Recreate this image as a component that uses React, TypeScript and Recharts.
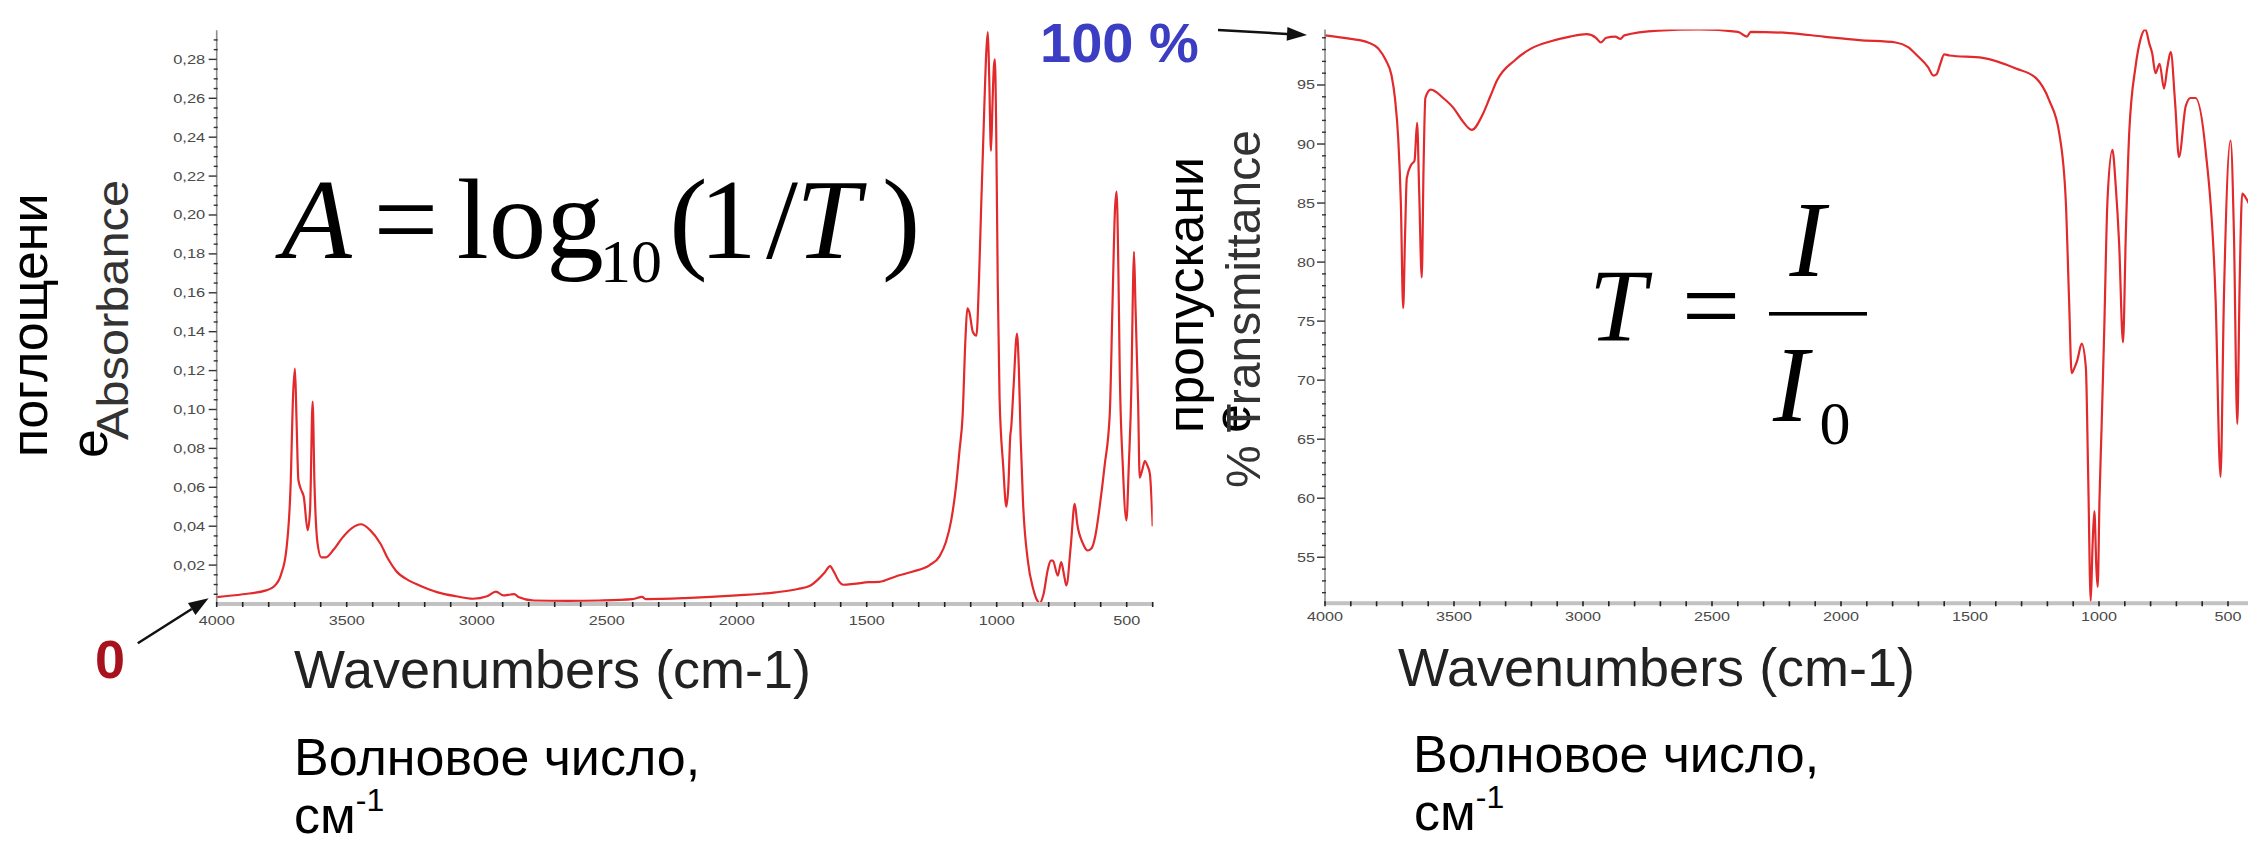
import React from 'react';
import { LineChart, Line, XAxis, YAxis } from 'recharts';

// ---------- data ----------
const WAVENUMBER_LABELS = [4000, 3500, 3000, 2500, 2000, 1500, 1000, 500];
const ABS_LABELS = [0.02, 0.04, 0.06, 0.08, 0.1, 0.12, 0.14, 0.16, 0.18, 0.2, 0.22, 0.24, 0.26, 0.28];
const TR_LABELS = [55, 60, 65, 70, 75, 80, 85, 90, 95];

const ABS_WAVENUMBERS = [
  4000, 3900, 3810, 3780, 3753, 3732, 3716, 3706, 3699, 3693, 3686, 3676, 3665, 3650, 3641, 3631, 3624, 3612,
  3598, 3580, 3550, 3517, 3480, 3445, 3410, 3370, 3340, 3310, 3260, 3220, 3150, 3080, 3015, 2960, 2926, 2897,
  2870, 2855, 2840, 2780, 2650, 2530, 2400, 2364, 2350, 2200, 2000, 1850, 1765, 1720, 1690, 1660, 1641, 1626,
  1606, 1590, 1550, 1492, 1452, 1386, 1325, 1259, 1220, 1195, 1175, 1156, 1143, 1131, 1120, 1113, 1105, 1092,
  1078, 1068, 1060, 1048, 1040, 1034, 1029, 1022, 1016, 1011, 1007, 1002, 996, 989, 975, 963, 955, 948, 944,
  935, 922, 915, 908, 899, 880, 860, 845, 835, 820, 803, 792, 784, 765, 752, 740, 732, 715, 700, 690, 668, 650,
  636, 620, 604, 585, 565, 555, 545, 539, 532, 527, 515, 501, 492, 482, 476, 472, 466, 456, 450, 440, 430, 420,
  411, 400,
];
const ABSORBANCE = [
  0.0035, 0.005, 0.007, 0.009, 0.015, 0.028, 0.06, 0.108, 0.121, 0.095, 0.064, 0.059, 0.055, 0.038, 0.048, 0.104,
  0.062, 0.031, 0.024, 0.024, 0.028, 0.034, 0.039, 0.041, 0.038, 0.031, 0.023, 0.017, 0.012, 0.0095, 0.006, 0.004,
  0.0027, 0.004, 0.0064, 0.0044, 0.0049, 0.0051, 0.0036, 0.0018, 0.0016, 0.0018, 0.0025, 0.0037, 0.0025, 0.003,
  0.0044, 0.006, 0.0077, 0.0092, 0.0123, 0.0165, 0.0195, 0.0165, 0.0115, 0.0099, 0.0103, 0.0112, 0.0114, 0.0143,
  0.0166, 0.0199, 0.0245, 0.032, 0.043, 0.061, 0.079, 0.097, 0.137, 0.152, 0.15, 0.14, 0.138, 0.167, 0.203, 0.254,
  0.284, 0.294, 0.272, 0.233, 0.258, 0.276, 0.28, 0.245, 0.165, 0.106, 0.071, 0.05, 0.061, 0.086, 0.091, 0.112,
  0.139, 0.122, 0.086, 0.053, 0.022, 0.008, 0.002, 0.0004, 0.005, 0.018, 0.0223, 0.0223, 0.0146, 0.0215, 0.0142,
  0.0095, 0.03, 0.0515, 0.041, 0.031, 0.0275, 0.0285, 0.0355, 0.05, 0.071, 0.098, 0.152, 0.203, 0.212, 0.172,
  0.122, 0.071, 0.043, 0.071, 0.112, 0.162, 0.181, 0.152, 0.103, 0.065, 0.069, 0.0735, 0.071, 0.067, 0.04,
];

const TR_WAVENUMBERS = [
  4000, 3900, 3833, 3790, 3764, 3742, 3729, 3716, 3706, 3697, 3690, 3683, 3667, 3653, 3643, 3635, 3625, 3618,
  3611, 3590, 3542, 3500, 3472, 3431, 3389, 3360, 3333, 3264, 3200, 3125, 3050, 2986, 2950, 2931, 2910, 2875,
  2855, 2840, 2708, 2550, 2400, 2365, 2350, 2200, 2068, 1929, 1788, 1740, 1705, 1662, 1642, 1630, 1615, 1600,
  1580, 1451, 1322, 1245, 1193, 1154, 1129, 1116, 1106, 1096, 1084, 1067, 1051, 1042, 1032, 1025, 1018, 1010,
  1005, 998, 990, 980, 967, 948, 935, 922, 907, 896, 883, 858, 840, 820, 805, 794, 781, 765, 748, 735, 722, 705,
  690, 664, 645, 626, 587, 548, 529, 516, 490, 477, 464, 455, 445, 427, 400,
];
const TRANSMITTANCE = [
  99.2, 98.9, 98.6, 98.0, 97.1, 95.8, 93.9, 90.4, 85.0, 76.1, 82.0, 87.1, 88.2, 88.6, 91.8, 86.0, 78.7, 88.0,
  93.9, 94.6, 93.9, 93.0, 92.1, 91.2, 92.5, 94.0, 95.4, 97.1, 98.1, 98.7, 99.1, 99.3, 99.0, 98.6, 99.0, 99.1,
  98.9, 99.2, 99.6, 99.7, 99.5, 99.1, 99.5, 99.4, 99.1, 98.8, 98.6, 98.2, 97.5, 96.5, 95.8, 95.9, 96.8, 97.6,
  97.5, 97.3, 96.4, 95.6, 93.7, 90.9, 85.3, 76.8, 70.6, 71.0, 71.7, 73.1, 71.1, 62.0, 51.3, 56.0, 58.9, 54.0,
  52.5, 60.0, 66.0, 74.0, 85.3, 89.5, 86.4, 81.6, 73.2, 82.4, 90.9, 96.6, 98.8, 99.7, 98.5, 97.7, 96.0, 96.8,
  94.7, 96.5, 97.8, 93.5, 88.9, 93.2, 93.9, 93.9, 89.5, 76.8, 61.8, 76.8, 90.3, 82.4, 66.3, 78.0, 85.8, 85.3, 84.0,
];

// ---------- helpers ----------
function steps(from: number, to: number, step: number, digits: number): number[] {
  const out: number[] = [];
  const n = Math.round((to - from) / step);
  for (let i = 0; i <= n; i++) out.push(Number((from + i * step).toFixed(digits)));
  return out;
}
const X_TICKS = steps(400, 4000, 100, 0);
const ABS_TICKS = steps(0.005, 0.29, 0.005, 3);
const TR_TICKS = steps(52, 99, 1, 0);

const absData = ABS_WAVENUMBERS.map((w, i) => ({ wn: w, a: ABSORBANCE[i] }));
const trData = TR_WAVENUMBERS.map((w, i) => ({ wn: w, t: TRANSMITTANCE[i] }));

const SANS = '"Liberation Sans", Arial, sans-serif';
const SERIF = '"Liberation Serif", "Times New Roman", serif';
const LINE_COLOR = '#e22a2c';
const LABEL_COLOR = '#4a4a4a';

const isIn = (list: number[], v: number) => list.some((t) => Math.abs(t - v) < 1e-6);

const makeXTick = (labelDy: number) => (props: any) => {
  const { x, y, payload } = props;
  const v = payload.value as number;
  const s = String(v);
  return (
    <g>
      <line x1={x} x2={x} y1={y - 2} y2={y + 3} stroke="#222" strokeWidth={1.6} />
      {isIn(WAVENUMBER_LABELS, v) && (
        <text
          x={x}
          y={y + labelDy}
          textAnchor="middle"
          fontSize={12.5}
          fontFamily={SANS}
          fill={LABEL_COLOR}
          textLength={s.length * 9}
          lengthAdjust="spacingAndGlyphs"
        >
          {s}
        </text>
      )}
    </g>
  );
};

const makeYTick = (labels: number[], fmt: (v: number) => string, gap: number, charW: number) => (props: any) => {
  const { x, y, payload } = props;
  const v = payload.value as number;
  const major = isIn(labels, v);
  const s = fmt(v);
  return (
    <g>
      {major ? (
        <line x1={x - 8} x2={x} y1={y} y2={y} stroke="#333" strokeWidth={1.4} />
      ) : (
        <line x1={x - 3} x2={x + 1} y1={y} y2={y} stroke="#333" strokeWidth={1.4} />
      )}
      {major && (
        <text
          x={x - gap}
          y={y + 4.5}
          textAnchor="end"
          fontSize={12.5}
          fontFamily={SANS}
          fill={LABEL_COLOR}
          textLength={s.length * charW}
          lengthAdjust="spacingAndGlyphs"
        >
          {s}
        </text>
      )}
    </g>
  );
};

function Arrow({ x1, y1, x2, y2, head = 20, half = 7 }: { x1: number; y1: number; x2: number; y2: number; head?: number; half?: number }) {
  const dx = x2 - x1;
  const dy = y2 - y1;
  const L = Math.hypot(dx, dy);
  const ux = dx / L;
  const uy = dy / L;
  const bx = x2 - ux * head;
  const by = y2 - uy * head;
  const px = -uy * half;
  const py = ux * half;
  return (
    <g>
      <line x1={x1} y1={y1} x2={bx} y2={by} stroke="#111" strokeWidth={2.5} />
      <polygon points={`${x2},${y2} ${bx + px},${by + py} ${bx - px},${by - py}`} fill="#111" />
    </g>
  );
}

function Rot({ x, y, size, children, fill = '#000', len }: { x: number; y: number; size: number; children: string; fill?: string; len?: number }) {
  return (
    <text
      transform={`translate(${x},${y}) rotate(-90)`}
      fontSize={size}
      fontFamily={SANS}
      fill={fill}
      {...(len ? { textLength: len, lengthAdjust: 'spacingAndGlyphs' } : {})}
    >
      {children}
    </text>
  );
}

export default function App() {
  return (
    <div style={{ position: 'absolute', left: 0, top: 0, width: 2248, height: 844, overflow: 'hidden', background: '#fff' }}>
      {/* Absorbance spectrum */}
      <div style={{ position: 'absolute', left: 0, top: 0 }}>
        <LineChart width={1160} height={640} data={absData} margin={{ top: 30.2, right: 7.3, bottom: 6, left: 156.7 }}>
          <XAxis
            dataKey="wn"
            type="number"
            domain={[400, 4000]}
            reversed
            allowDataOverflow
            ticks={X_TICKS}
            interval={0}
            height={30}
            tickSize={0}
            tickMargin={0}
            tickLine={false}
            axisLine={{ stroke: '#c2c2c2', strokeWidth: 4 }}
            tick={makeXTick(21)}
          />
          <YAxis
            type="number"
            domain={[0, 0.295]}
            allowDataOverflow
            ticks={ABS_TICKS}
            interval={0}
            width={60}
            tickSize={0}
            tickMargin={0}
            tickLine={false}
            axisLine={{ stroke: '#8c8c8c', strokeWidth: 1.6 }}
            tick={makeYTick(ABS_LABELS, (v) => v.toFixed(2).replace('.', ','), 11.5, 8)}
          />
          <Line type="monotone" dataKey="a" stroke={LINE_COLOR} strokeWidth={2.2} dot={false} isAnimationActive={false} />
        </LineChart>
      </div>

      {/* Transmittance spectrum */}
      <div style={{ position: 'absolute', left: 1260, top: 0 }}>
        <LineChart width={1000} height={640} data={trData} margin={{ top: 29.5, right: 6.2, bottom: 6.7, left: 10 }}>
          <XAxis
            dataKey="wn"
            type="number"
            domain={[400, 4000]}
            reversed
            allowDataOverflow
            ticks={X_TICKS}
            interval={0}
            height={30}
            tickSize={0}
            tickMargin={0}
            tickLine={false}
            axisLine={{ stroke: '#c2c2c2', strokeWidth: 4 }}
            tick={makeXTick(18)}
          />
          <YAxis
            type="number"
            domain={[51.1, 99.7]}
            allowDataOverflow
            ticks={TR_TICKS}
            interval={0}
            width={55}
            tickSize={0}
            tickMargin={0}
            tickLine={false}
            axisLine={{ stroke: '#8c8c8c', strokeWidth: 1.6 }}
            tick={makeYTick(TR_LABELS, (v) => String(v), 10, 9)}
          />
          <Line type="monotone" dataKey="t" stroke={LINE_COLOR} strokeWidth={2.2} dot={false} isAnimationActive={false} />
        </LineChart>
      </div>

      {/* annotations */}
      <svg width={2248} height={844} style={{ position: 'absolute', left: 0, top: 0, pointerEvents: 'none' }}>
        <rect x={1143} y={230} width={72} height={227} fill="#fff" />

        <Rot x={47} y={457} size={52}>поглощени</Rot>
        <Rot x={107} y={458} size={52}>е</Rot>
        <Rot x={128} y={440} size={45} fill="#333" len={260}>Absorbance</Rot>

        <Rot x={1203} y={433} size={52}>пропускани</Rot>
        <Rot x={1250} y={433} size={52}>е</Rot>
        <Rot x={1260} y={488} size={48} fill="#333" len={358}>% Transmittance</Rot>

        <text x={294} y={688} fontSize={54} fontFamily={SANS} fill="#222">Wavenumbers (cm-1)</text>
        <text x={1398} y={686} fontSize={54} fontFamily={SANS} fill="#222">Wavenumbers (cm-1)</text>

        <text x={294} y={775} fontSize={52} fontFamily={SANS} fill="#000">Волновое число,</text>
        <text x={294} y={833} fontSize={52} fontFamily={SANS} fill="#000">
          см<tspan fontSize={32} dy={-22}>-1</tspan>
        </text>
        <text x={1413} y={772} fontSize={52} fontFamily={SANS} fill="#000">Волновое число,</text>
        <text x={1414} y={830} fontSize={52} fontFamily={SANS} fill="#000">
          см<tspan fontSize={32} dy={-22}>-1</tspan>
        </text>

        <text x={95} y={678} fontSize={54} fontWeight="bold" fontFamily={SANS} fill="#a8121e">0</text>
        <Arrow x1={137.8} y1={643.3} x2={208.6} y2={598.3} />

        <text x={1040} y={62} fontSize={56} fontWeight="bold" fontFamily={SANS} fill="#3b3dc2">100 %</text>
        <Arrow x1={1218} y1={30} x2={1307} y2={35} />

        {/* A = log10(1/T) */}
        <text fontFamily={SERIF} fill="#000" fontSize={115} y={258}>
          <tspan x={281.4} y={258} fontStyle="italic">A</tspan>
          <tspan x={373.5} y={258}>=</tspan>
          <tspan x={456.8} y={258}>log</tspan>
          <tspan x={600} y={282} fontSize={62}>10</tspan>
          <tspan x={669.2} y={258}>(</tspan>
          <tspan x={699.2} y={258}>1</tspan>
          <tspan x={766} y={258}>/</tspan>
          <tspan x={796} y={258} fontStyle="italic">T</tspan>
          <tspan x={882} y={258}>)</tspan>
        </text>

        {/* T = I / I0 */}
        <g fontFamily={SERIF} fill="#000">
          <text x={1589} y={341} fontSize={103} fontStyle="italic">T</text>
          <text x={1682} y={341} fontSize={103}>=</text>
          <text x={1789.6} y={275.7} fontSize={107} fontStyle="italic">I</text>
          <rect x={1769} y={312} width={98} height={3.6} />
          <text x={1772.9} y={420.7} fontSize={107} fontStyle="italic">I</text>
          <text x={1819.5} y={444} fontSize={62}>0</text>
        </g>
      </svg>
    </div>
  );
}
